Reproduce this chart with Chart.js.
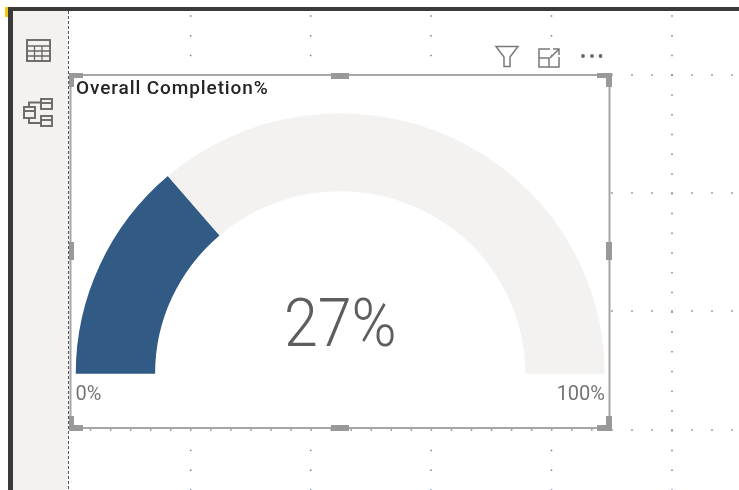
<!DOCTYPE html>
<html>
<head>
<meta charset="utf-8">
<title>Overall Completion%</title>
<script src="https://cdn.jsdelivr.net/npm/chart.js@4"></script>
<style>
  html, body { margin: 0; padding: 0; background: #fff; overflow: hidden; }
  #page { position: relative; width: 739px; height: 490px; overflow: hidden; }
  #chrome, #gauge { position: absolute; left: 0; top: 0; }
</style>
</head>
<body>
<div id="page">
  <svg id="chrome" width="739" height="490" xmlns="http://www.w3.org/2000/svg"></svg>
  <canvas id="gauge" width="739" height="490"></canvas>
</div>
<script>
// gauge values, the wedge reads slightly over the rounded 27% label
const categories = ['Completed', 'Remaining'];
const values = [27.4, 72.6];
const sliceColors = ['#315b84', '#f3f2f1'];
const titleText = 'Overall Completion%';
const centerText = '27%';
const minLabel = '0%';
const maxLabel = '100%';

// Report canvas around the visual (sidebar, grid dots, selection box, icons)
function drawChrome() {
  const svg = document.getElementById('chrome');
  let s = '';
  const rect = (x, y, w, h, c) => { s += `<rect x="${x}" y="${y}" width="${w}" height="${h}" fill="${c}"/>`; };

  // grid dots
  const dot = (x, y) => rect(x - 0.75, y - 0.75, 1.5, 1.5, '#6f83a0');
  for (let x of [190.7, 310.7, 431, 551.5, 672]) {
    for (let k = 0; k < 25; k++) {
      const y = 16 + k * 19.75;
      if (x === 672 || y < 72 || y > 432) dot(x, y);
    }
  }
  for (let y of [75, 193, 311, 430]) {
    for (let k = -3; k < 4; k++) dot(672 + k * 20, y);
  }
  for (let k = 4; k < 30; k++) dot(672 - k * 20.05, 430);
  for (let y of [16, 35.5, 55.5, 442, 462, 481]) rect(71, y, 1, 1, '#dddddd');

  // frame of the report page
  rect(12, 11, 56, 479, '#f3f2f1');
  rect(5, 7, 3, 10, '#f2c811');
  rect(8, 7, 731, 4, '#3b3a39');
  rect(8, 7, 5, 483, '#3b3a39');
  s += '<line x1="68.5" y1="11" x2="68.5" y2="490" stroke="#555" stroke-width="1" stroke-dasharray="3 2"/>';

  // selection box
  rect(70, 75, 540, 353, '#fff');
  s += '<rect x="70.5" y="75" width="539" height="353" fill="none" stroke="#a6a6a6" stroke-width="2"/>';
  const h = '#999999';
  rect(69, 73, 14, 5, h); rect(69, 73, 5, 14, h);
  rect(597, 73, 15, 5, h); rect(606, 73, 6, 14, h);
  rect(69, 425, 14, 6, h); rect(69, 416, 5, 15, h);
  rect(597, 425, 15, 6, h); rect(606, 416, 6, 15, h);
  rect(331, 73, 18, 6, h); rect(331, 425, 18, 6, h);
  rect(69, 242, 5, 18, h); rect(606, 242, 6, 18, h);

  // sidebar and header icons
  const st = 'fill="none" stroke="#6a6867" stroke-width="1.9"';
  s += `<rect x="27" y="40" width="23" height="21" ${st}/>`;
  s += `<path d="M27 46H50M27 51H50M27 56H50M34.5 46V61M42 46V61" fill="none" stroke="#6a6867" stroke-width="1.3"/>`;
  s += `<rect x="41" y="99" width="11" height="10" ${st}/><path d="M41 103H52" ${st}/>`;
  s += `<rect x="24" y="107" width="11" height="11" ${st}/><path d="M24 111H35" ${st}/>`;
  s += `<rect x="41" y="116" width="11" height="10" ${st}/><path d="M41 120H52" ${st}/>`;
  s += `<path d="M29 107V102.5H41M29 118V123H41" ${st}/>`;
  const st2 = 'fill="none" stroke="#7a7877" stroke-width="1.5"';
  s += `<path d="M496 46.5H518L510 57V66.5H504V57Z" ${st2}/>`;
  s += `<path d="M550 49H539V67H559V57M539 58H549V67" ${st2}/><path d="M550 58L559 49M553 49H559V55" ${st2}/>`;
  for (let x of [583, 592, 600.5]) s += `<circle cx="${x}" cy="56" r="1.9" fill="#6a6867"/>`;
  svg.innerHTML = s;
}

// flattens the arc a little, the reference is not a perfect circle
const squashPlugin = {
  id: 'squash',
  beforeDatasetsDraw(chart) {
    const ctx = chart.ctx;
    const base = chart.chartArea.bottom;
    ctx.save();
    ctx.translate(0, base);
    ctx.scale(1, 0.985);
    ctx.translate(0, -base);
  },
  afterDatasetsDraw(chart) {
    chart.ctx.restore();
  }
};

const labelsPlugin = {
  id: 'gaugeLabels',
  afterDraw(chart) {
    const ctx = chart.ctx;
    const area = chart.chartArea;
    const cx = (area.left + area.right) / 2;
    ctx.save();
    ctx.textBaseline = 'alphabetic';

    ctx.fillStyle = '#252423';
    ctx.font = '500 19px Roboto';
    ctx.letterSpacing = '0.9px';
    ctx.textAlign = 'left';
    ctx.fillText(titleText, 76, 94);
    ctx.letterSpacing = '0px';

    // big number, squeezed to the narrower look of the original
    ctx.save();
    ctx.translate(cx, 346);
    ctx.scale(0.91, 1);
    ctx.fillStyle = '#605e5c';
    ctx.font = '300 67px Roboto';
    ctx.textAlign = 'center';
    ctx.fillText(centerText, 0, 0);
    ctx.restore();

    ctx.fillStyle = '#777573';
    ctx.font = '400 20px Roboto';
    ctx.textAlign = 'left';
    ctx.fillText(minLabel, area.left, 400);
    ctx.textAlign = 'right';
    ctx.fillText(maxLabel, area.right, 400);
    ctx.restore();
  }
};

function drawGauge() {
  new Chart(document.getElementById('gauge'), {
    type: 'doughnut',
    data: {
      labels: categories,
      datasets: [{
        data: values,
        backgroundColor: sliceColors,
        borderWidth: 0
      }]
    },
    options: {
      responsive: false,
      animation: false,
      rotation: -90,
      circumference: 180,
      cutout: '70%',
      layout: { padding: { left: 75.5, right: 134, top: 109.2, bottom: 116.3 } },
      plugins: {
        legend: { display: false },
        tooltip: { enabled: false }
      }
    },
    plugins: [squashPlugin, labelsPlugin]
  });
}

Promise.all([document.fonts.load('300 67px Roboto'), document.fonts.load('400 20px Roboto'), document.fonts.load('500 19px Roboto')]).finally(() => {
  drawChrome();
  drawGauge();
});
</script>
</body>
</html>
